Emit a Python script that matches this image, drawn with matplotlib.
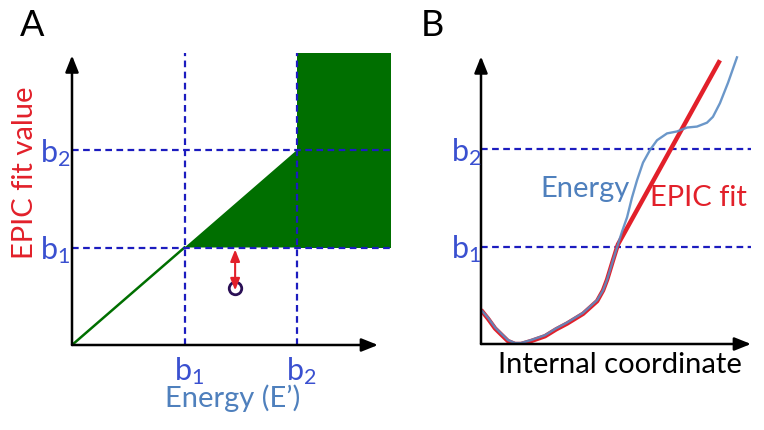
import numpy as np
import matplotlib.pyplot as plt

plt.rcParams['font.family'] = ['Lato', 'DejaVu Sans']
plt.rcParams['mathtext.fontset'] = 'custom'
plt.rcParams['mathtext.rm'] = 'Lato'
plt.rcParams['mathtext.it'] = 'Lato'

# thresholds
b1 = 1.0
b2 = 2.0
tick_labels = [r'b$_\mathrm{1}$', r'b$_\mathrm{2}$']

# panel A: example point below b1
point_x = 1.45
point_y = 0.58

# panel B: energy curve and EPIC fit along the internal coordinate
energy_x = [0.0, 0.26, 0.52, 0.74, 1.00, 1.26, 1.48, 1.85, 2.37, 2.78, 3.19, 3.78,
            4.30, 4.52, 4.67, 4.89, 5.07, 5.22, 5.41, 5.59, 5.78, 6.00, 6.26, 6.52,
            6.89, 7.26, 7.63, 8.00, 8.37, 8.59, 8.85, 9.15, 9.48]
energy_y = [0.35, 0.27, 0.17, 0.11, 0.04, 0.01, 0.01, 0.04, 0.09, 0.16, 0.22, 0.32,
            0.45, 0.55, 0.66, 0.86, 1.02, 1.15, 1.30, 1.50, 1.68, 1.86, 1.99, 2.09,
            2.16, 2.18, 2.22, 2.23, 2.27, 2.33, 2.47, 2.68, 2.94]
fit_x = [0.0, 0.26, 0.52, 0.74, 1.00, 1.26, 1.48, 1.85, 2.37, 2.78, 3.19, 3.78,
         4.30, 4.52, 4.67, 4.89, 5.07, 8.85]
fit_y = [0.35, 0.26, 0.16, 0.10, 0.03, 0.00, 0.00, 0.03, 0.08, 0.15, 0.21, 0.31,
         0.44, 0.55, 0.66, 0.86, 1.02, 2.91]

DASH = '#1c1cbf'
TICK = '#3a50d0'
STEEL = '#4f80bd'
RED = '#e2202a'
GREEN = '#006f00'

W, H = 764, 430
fig = plt.figure(figsize=(W/100, H/100), dpi=100)

def box(l, r, b, t):
    return [l/W, 1 - b/H, (r-l)/W, (b-t)/H]

def arrows(ax, xe, ye):
    kw = dict(arrowstyle='-|>,head_length=0.55,head_width=0.22', color='black',
              lw=1.8, mutation_scale=18, shrinkA=0, shrinkB=0)
    ax.annotate('', xy=(xe, 0), xytext=(0, 0), arrowprops=kw, annotation_clip=False)
    ax.annotate('', xy=(0, ye), xytext=(0, 0), arrowprops=kw, annotation_clip=False)

# ---------- panel A ----------
ax = fig.add_axes(box(72, 400, 345, 40))
ax.set_xlim(0, 328/112.5)
ax.set_ylim(0, 305/97.5)
ax.axis('off')

top = 3.0
right = 2.84
ax.fill_between([b2, right], b1, top, color=GREEN, lw=0)
ax.fill([b1, b2, b2], [b1, b2, b1], color=GREEN, lw=0)
ax.plot([0, b1], [0, b1], color=GREEN, lw=1.8)
for b in (b1, b2):
    ax.plot([b, b], [0, top], color=DASH, lw=1.6, dashes=(3, 2))
    ax.plot([0, right + 0.01], [b, b], color=DASH, lw=1.6, dashes=(3, 2))
arrows(ax, 2.72, 2.97)

ax.plot(point_x, point_y, 'o', ms=9, mfc='none', mec='#2a0f55', mew=2)
ax.annotate('', xy=(point_x, b1 - 0.02), xytext=(point_x, point_y - 0.02),
            arrowprops=dict(arrowstyle='<|-|>,head_length=0.5,head_width=0.2',
                            color=RED, lw=1.5, mutation_scale=14, shrinkA=0, shrinkB=0))

for b, lab in zip((b1, b2), tick_labels):
    ax.text(b + 0.04, -0.27, lab, color=TICK, fontsize=22, ha='center', va='center')
    ax.text(-0.15, b - 0.03, lab, color=TICK, fontsize=22, ha='center', va='center')
ax.text(1.43, -0.55, 'Energy (E\u2019)', color=STEEL, fontsize=21, ha='center', va='center')
ax.text(-0.42, 1.77, 'EPIC fit value', color=RED, fontsize=21, ha='center', va='center',
        rotation=90)

# ---------- panel B ----------
bx = fig.add_axes(box(481, 760, 344, 40))
bx.set_xlim(0, 279/27)
bx.set_ylim(0, 304/97.5)
bx.axis('off')

for b in (b1, b2):
    bx.plot([0, 10.0], [b, b], color=DASH, lw=1.6, dashes=(3, 2))
bx.plot(fit_x, fit_y, color=RED, lw=3.2, solid_capstyle='butt', solid_joinstyle='round')
bx.plot(energy_x, energy_y, color='#5b8cc4', lw=1.7, solid_joinstyle='round', alpha=0.9)
arrows(bx, 10.0, 2.95)

for b, lab in zip((b1, b2), tick_labels):
    bx.text(-0.56, b - 0.03, lab, color=TICK, fontsize=22, ha='center', va='center')
bx.text(3.85, 1.59, 'Energy', color=STEEL, fontsize=21, ha='center', va='center')
bx.text(8.04, 1.50, 'EPIC fit', color=RED, fontsize=21, ha='center', va='center')
bx.text(5.15, -0.22, 'Internal coordinate', color='black', fontsize=21,
        ha='center', va='center')

fig.text(32/W, 1 - 25/H, 'A', fontsize=26, ha='center', va='center')
fig.text(432/W, 1 - 25/H, 'B', fontsize=26, ha='center', va='center')

fig.savefig('out.png', dpi=100)
